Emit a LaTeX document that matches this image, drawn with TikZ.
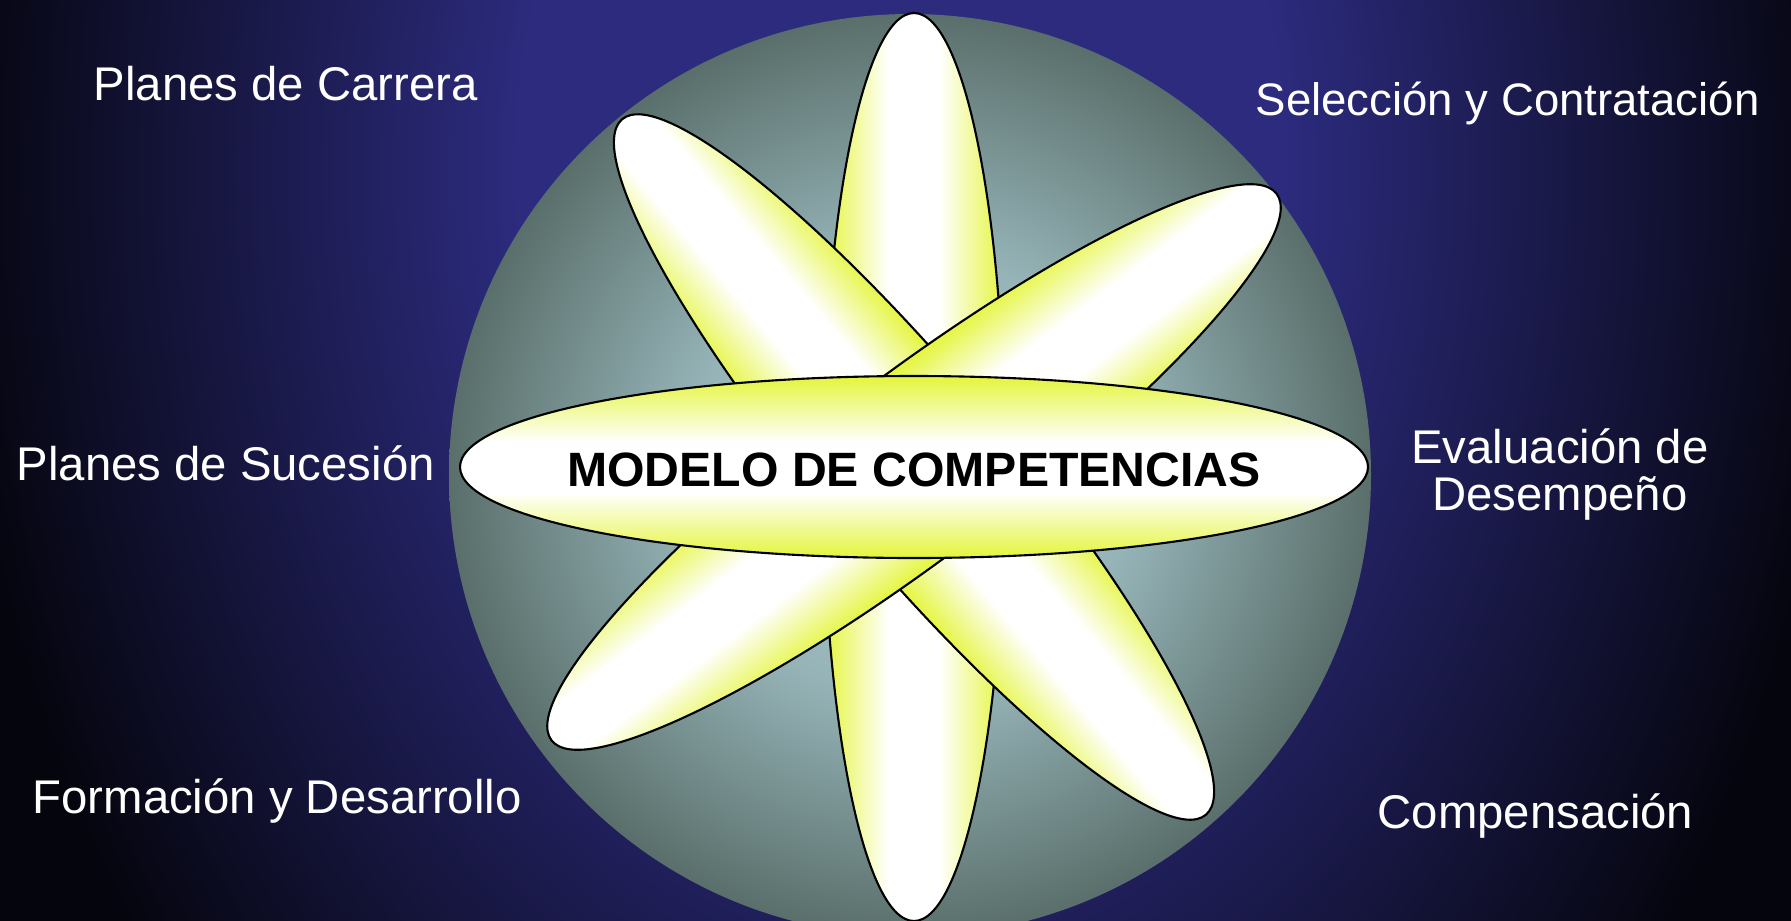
\documentclass[tikz,border=0pt]{standalone}
\usepackage{fontspec}
\setmainfont{Liberation Sans}
\definecolor{bgnavy}{RGB}{44,43,126}
\definecolor{bgdark}{RGB}{5,5,14}
\definecolor{discin}{RGB}{176,206,210}
\definecolor{discmid}{RGB}{150,180,184}
\definecolor{discout}{RGB}{90,111,107}
\definecolor{petalyel}{RGB}{228,245,58}
\pgfdeclareradialshading{bgglow}{\pgfpointorigin}{color(0bp)=(bgnavy); color(10bp)=(bgnavy); color(25bp)=(bgdark); color(50bp)=(bgdark)}
\pgfdeclareradialshading{discglow}{\pgfpointorigin}{color(0bp)=(discin); color(12bp)=(discmid); color(25bp)=(discout); color(50bp)=(discout)}
\pgfdeclareverticalshading{petalfill}{100bp}{color(0bp)=(petalyel); color(25bp)=(petalyel); color(43bp)=(white); color(57bp)=(white); color(75bp)=(petalyel); color(100bp)=(petalyel)}
\begin{document}
\begin{tikzpicture}[x=0.01cm, y=0.01cm,
    petal/.style={shading=petalfill, draw=black, line width=0.6pt},
    lbl/.style={text=white, inner sep=0pt, font=\fontsize{13.45pt}{13.2pt}\selectfont},
    core/.style={inner sep=0pt, font=\bfseries\fontsize{13.7pt}{14pt}\selectfont}]
        \useasboundingbox (0,0) rectangle (1791,920);
        \clip (-6,-6) rectangle (1797,926);
        %%background
        \fill[bgdark] (-6,-6) rectangle (1797,926);
        \shade[shading=bgglow] (900,750) ellipse (950 and 1300);
        %%disc
        \shade[shading=discglow] (910,445) circle (461);

        %%petals
        \coordinate (pc) at (914,453);
        \begin{scope}[transform canvas={rotate around={90:(pc)}}]
            \shadedraw[petal] (pc) ellipse (454 and 91);
        \end{scope}
        \begin{scope}[transform canvas={rotate around={-50:(pc)}}]
            \shadedraw[petal] (pc) ellipse (454 and 91);
        \end{scope}
        \begin{scope}[transform canvas={rotate around={37:(pc)}}]
            \shadedraw[petal] (pc) ellipse (454 and 91);
        \end{scope}
        \shadedraw[petal] (pc) ellipse (454 and 91);

        %%centre
        \node[core, anchor=base] (modelo) at (914,434) {MODELO DE COMPETENCIAS};

        %%labels
        \node[lbl, anchor=base west] (carrera) at (93,820) {Planes de Carrera};
        \node[lbl, anchor=base west, font=\fontsize{12.95pt}{13.2pt}\selectfont] (seleccion) at (1255,805) {Selección y Contratación};
        \node[lbl, anchor=base west] (sucesion) at (16,440) {Planes de Sucesión};
        \node[lbl, align=center, anchor=base] (evaluacion) at (1560,410) {Evaluación de\\ Desempeño};
        \node[lbl, anchor=base west] (formacion) at (32,107) {Formación y Desarrollo};
        \node[lbl, anchor=base west] (compensacion) at (1377,92) {Compensación};
\end{tikzpicture}
\end{document}
